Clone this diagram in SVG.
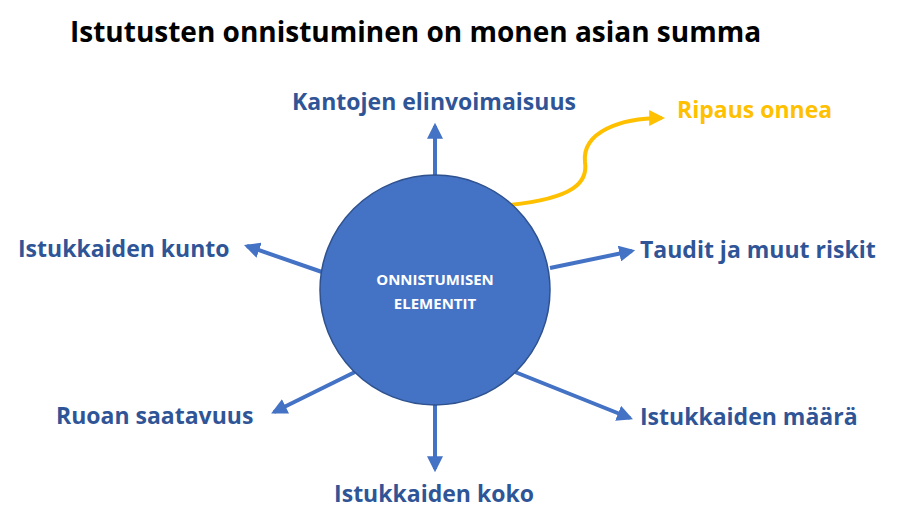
<svg xmlns="http://www.w3.org/2000/svg" width="898" height="528" viewBox="0 0 898 528">
<style>
text{font-family:"Open Sans","Liberation Sans",sans-serif;font-weight:bold}
.lbl{font-size:23px;fill:#2F5597}
.con{stroke:#4472C4;stroke-width:4;fill:none}
</style>
<defs>
<marker id="ah" viewBox="0 0 10 10" refX="8" refY="5" markerWidth="4" markerHeight="4" orient="auto" markerUnits="strokeWidth"><path d="M0,0L10,5L0,10z" fill="#4472C4"/></marker>
<marker id="ay" viewBox="0 0 10 10" refX="8" refY="5" markerWidth="4" markerHeight="4" orient="auto" markerUnits="strokeWidth"><path d="M0,0L10,5L0,10z" fill="#FFC000"/></marker>
</defs>
<rect width="898" height="528" fill="#fff"/>
<text x="70" y="42" font-size="28" fill="#000">Istutusten onnistuminen on monen asian summa</text>
<g id="connectors">
<line class="con" x1="435" y1="175" x2="435" y2="126" marker-end="url(#ah)"/>
<line class="con" x1="322" y1="272" x2="247" y2="246" marker-end="url(#ah)"/>
<line class="con" x1="550" y1="268" x2="632" y2="251" marker-end="url(#ah)"/>
<line class="con" x1="515" y1="372" x2="630" y2="418" marker-end="url(#ah)"/>
<line class="con" x1="355" y1="372" x2="274" y2="412" marker-end="url(#ah)"/>
<line class="con" x1="435" y1="405" x2="435" y2="469" marker-end="url(#ah)"/>
<path d="M510,205 C575,198 588,182 585,162 C582,132 620,118 662,118" stroke="#FFC000" stroke-width="4" fill="none" marker-end="url(#ay)"/>
</g>
<g id="center">
<circle cx="435" cy="290" r="115" fill="#4472C4" stroke="#2F528F" stroke-width="1.5"/>
<text x="435" y="285" font-size="15" fill="#fff" text-anchor="middle">ONNISTUMISEN</text>
<text x="435" y="309" font-size="15" fill="#fff" text-anchor="middle">ELEMENTIT</text>
</g>
<g id="n1"><text class="lbl" x="434" y="110" text-anchor="middle">Kantojen elinvoimaisuus</text></g>
<g id="n2"><text class="lbl" x="677" y="118" style="fill:#FFC000">Ripaus onnea</text></g>
<g id="n3"><text class="lbl" x="18" y="257">Istukkaiden kunto</text></g>
<g id="n4"><text class="lbl" x="640" y="258">Taudit ja muut riskit</text></g>
<g id="n5"><text class="lbl" x="56" y="424">Ruoan saatavuus</text></g>
<g id="n6"><text class="lbl" x="640" y="425">Istukkaiden määrä</text></g>
<g id="n7"><text class="lbl" x="434" y="502" text-anchor="middle">Istukkaiden koko</text></g>
</svg>
